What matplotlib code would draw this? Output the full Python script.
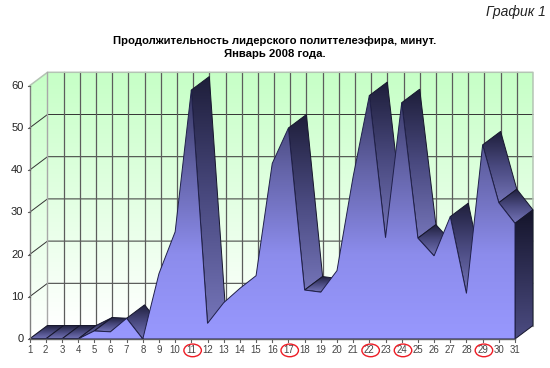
import numpy as np
import matplotlib
matplotlib.use("Agg")
import matplotlib.pyplot as plt
from matplotlib.colors import LinearSegmentedColormap
from matplotlib.patches import Polygon, Ellipse

plt.rcParams['font.family'] = ['Liberation Sans', 'DejaVu Sans']

days = list(range(1, 32))
minutes = [0, 0, 0, 0, 1.9, 1.7, 4.9, 0, 15.5, 25.4, 59, 3.7, 8.6, 12, 15, 41.6,
           50, 11.6, 11.1, 16.2, 38.5, 57.7, 24, 56, 23.9, 19.7, 29, 10.8, 46, 32.3, 27.4]
y_ticks = [0, 10, 20, 30, 40, 50, 60]
marked_days = [11, 17, 22, 24, 29]
title = "Продолжительность лидерского политтелеэфира, минут.\nЯнварь 2008 года."
corner = "График 1"

W, H = 550, 368
x0_px, x_step = 29.5, 16.183
y0_px, y_step = 339.0, 4.22
dx = 18 / x_step
dy = 13.5 / y_step

fig = plt.figure(figsize=(W / 100, H / 100), dpi=100, facecolor='white')
ax = fig.add_axes([0, 0, 1, 1])
xlim = (1 - x0_px / x_step, 1 + (W - x0_px) / x_step)
ylim = ((y0_px - H) / y_step, y0_px / y_step)

wall_cmap = LinearSegmentedColormap.from_list('wall', ['#ffffff', '#c6ffc6'])
front_cmap = LinearSegmentedColormap.from_list('front', ['#9898fe', '#8c8cec', '#6464a8', '#32325a'])
face_cmap = LinearSegmentedColormap.from_list('face', ['#7474b8', '#4a4a80', '#1e1e3a'])
cap_cmap = LinearSegmentedColormap.from_list('cap', ['#4c4c82', '#14142a'])
grad = np.linspace(0, 1, 256)[:, None]


def gradient_poly(pts, cmap, z, edge=None, lw=0.7, extent=None, vmax=1.0):
    pts = np.asarray(pts, float)
    if extent is None:
        extent = (pts[:, 0].min(), pts[:, 0].max(), pts[:, 1].min(), pts[:, 1].max())
    if extent[3] - extent[2] < 1e-6:
        extent = (extent[0], extent[1], extent[2], extent[2] + 0.1)
    im = ax.imshow(grad, cmap=cmap, origin='lower', extent=extent, aspect='auto',
                   zorder=z, vmin=0, vmax=vmax, interpolation='bilinear')
    patch = Polygon(pts, closed=True, transform=ax.transData, facecolor='none', edgecolor='none')
    ax.add_patch(patch)
    im.set_clip_path(patch)
    if edge:
        ax.add_patch(Polygon(pts, closed=True, facecolor='none', edgecolor=edge, linewidth=lw, zorder=z + 0.01))


x1, xn = days[0], days[-1]
top = y_ticks[-1]

# walls
gradient_poly([(x1 + dx, dy), (xn + dx, dy), (xn + dx, top + dy), (x1 + dx, top + dy)], wall_cmap, 1)
gradient_poly([(x1, 0), (x1 + dx, dy), (x1 + dx, top + dy), (x1, top)], wall_cmap, 1)

grid_c = '#333333'
for v in y_ticks[1:-1]:
    ax.plot([x1, x1 + dx, xn + dx], [v, v + dy, v + dy], color=grid_c, lw=0.7, zorder=2)
ax.plot([x1, x1 + dx], [0, dy], color='#808080', lw=0.8, zorder=2)
for d in days[1:-1]:
    ax.plot([d + dx, d + dx], [dy, top + dy], color='#5c5c5c', lw=0.9, zorder=2)
border = '#b4c4b4'
ax.plot([x1, x1 + dx, xn + dx, xn + dx], [top, top + dy, top + dy, dy], color=border, lw=1.1, zorder=2)
ax.plot([x1 + dx, x1 + dx], [dy, top + dy], color='#a8a8a8', lw=1.0, zorder=2)
ax.plot([x1 + dx, xn + dx], [dy, dy], color='#a0a0a0', lw=0.8, zorder=2)

# upper faces of the band
edge_c = '#16162c'
for i in range(len(days) - 1):
    h = minutes[i + 1] - minutes[i]
    if dy - h * dx >= 0:
        a, b = days[i], days[i + 1]
        pts = [(a, minutes[i]), (b, minutes[i + 1]), (b + dx, minutes[i + 1] + dy), (a + dx, minutes[i] + dy)]
        gradient_poly(pts, face_cmap, 3 + i * 0.02, edge=edge_c)

# end cap
v_end = minutes[-1]
gradient_poly([(xn, 0), (xn, v_end), (xn + dx, v_end + dy), (xn + dx, dy)], cap_cmap, 4, edge=edge_c)

# front face
front = [(x1, 0)] + list(zip(days, minutes)) + [(xn, 0)]
gradient_poly(front, front_cmap, 5, edge='#20204a', extent=(x1, xn, 0, 60))

# axes
axis_c = '#606060'
ax.plot([x1, xn], [0, 0], color=axis_c, lw=1.0, zorder=6)
ax.plot([x1, x1], [0, top], color='#808080', lw=1.0, zorder=6)
for v in y_ticks:
    ax.plot([x1 - 0.12, x1], [v, v], color=axis_c, lw=0.8, zorder=6)
    ax.text(x1 - 0.38, v, str(v), ha='right', va='center', fontsize=8, color='#222222', zorder=7)
for d in days:
    ax.plot([d, d], [-0.7, 0], color=axis_c, lw=0.8, zorder=6)
    ax.text(d, -2.7, str(d), ha='center', va='center', fontsize=6.9, color='#444444', zorder=7)
for d in marked_days:
    ax.add_patch(Ellipse((d + 0.08, -2.7), 1.08, 3.0, facecolor='none', edgecolor='#ee1c25', lw=1.0, zorder=8))

ax.set_xlim(*xlim)
ax.set_ylim(*ylim)
ax.axis('off')

fig.text(275 / W, 1 - 35.5 / H, title, ha='center', va='top', fontsize=8.1, fontweight='bold',
         color='black', linespacing=1.4)
fig.text(546 / W, 1 - 12 / H, corner, ha='right', va='center', fontsize=10, style='italic', color='#222222')

fig.savefig('out.png', dpi=100)
